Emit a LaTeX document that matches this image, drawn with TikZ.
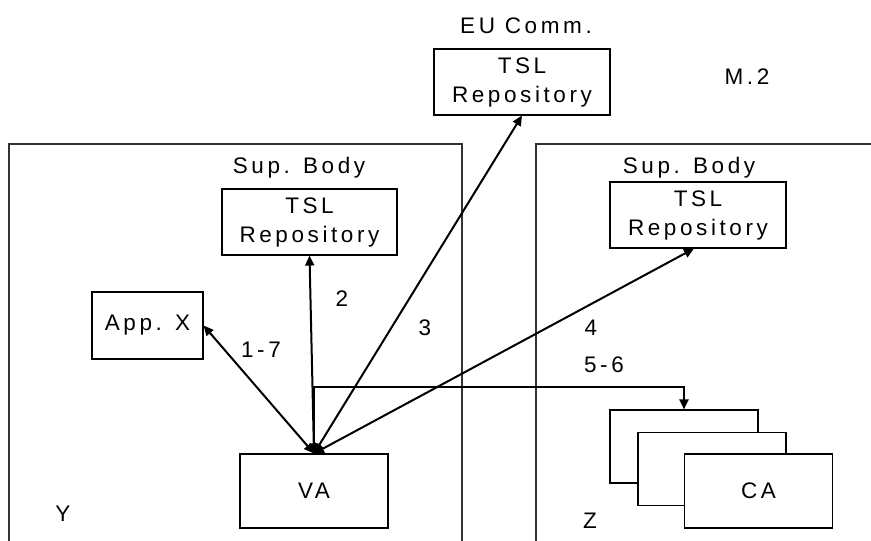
\documentclass[tikz,border=0pt]{standalone}
\usepackage{fontspec}
\setmainfont{Liberation Sans}[LetterSpace=16]
\usetikzlibrary{arrows.meta}
\newcommand\dgfont{\fontsize{22.5}{29}\selectfont}
\begin{document}
\begin{tikzpicture}[x=1pt,y=-1pt,
  box/.style={draw=black, line width=1.1pt, fill=white, inner sep=0pt, align=center, font=\dgfont},
  lbl/.style={anchor=base, inner sep=0pt, font=\dgfont},
  frame/.style={draw=black!80, line width=1.1pt},
  arr/.style={line width=2pt, {Triangle[length=10pt,width=9pt]}-{Triangle[length=10pt,width=9pt]}},
  arr1/.style={line width=2pt, -{Triangle[length=10pt,width=9pt]}}]
\useasboundingbox (0,0) rectangle (871,541);
% containers
\draw[frame] (9,541) -- (9,144) -- (462,144) -- (462,541);
\draw[frame] (536,541) -- (536,144) -- (871,144);
% boxes
\node[box, minimum width=176pt, minimum height=66pt] (eu) at (522,82) {TSL\\Repository};
\node[box, minimum width=175pt, minimum height=66pt] (tslL) at (309.5,222) {TSL\\Repository};
\node[box, minimum width=176pt, minimum height=66pt] (tslR) at (698,215) {TSL\\Repository};
\node[box, minimum width=111pt, minimum height=67pt] (appx) at (147.5,325.5) {App. X};
\node[box, minimum width=148pt, minimum height=74pt] (va) at (314,491) {VA};
\node[box, minimum width=148pt, minimum height=73pt] (ca1) at (684,446.5) {};
\node[box, minimum width=148pt, minimum height=73pt] (ca2) at (712,469) {};
\node[box, minimum width=148pt, minimum height=74pt] (ca3) at (758.5,491) {CA};
% labels
\node[lbl] (euc) at (526,33) {EU Comm.};
\node[lbl] (m2) at (747,84) {M.2};
\node[lbl] (sbL) at (299,173) {Sup. Body};
\node[lbl] (sbR) at (689,173) {Sup. Body};
\node[lbl] (l2) at (342,306) {2};
\node[lbl] (l3) at (425,335) {3};
\node[lbl] (l4) at (591,335) {4};
\node[lbl] (l17) at (261,357) {1-7};
\node[lbl] (l56) at (604,372) {5-6};
\node[lbl] (ly) at (63,521) {Y};
\node[lbl] (lz) at (590,528) {Z};
% connectors
\draw[arr] (va.north) -- (appx.east);
\draw[arr] (va.north) -- (tslL.south);
\draw[arr] (va.north) -- (eu.south);
\draw[arr] (va.north) -- ([xshift=-4pt]tslR.south);
\coordinate (elbow) at (314,387);
\draw[arr1] (va.north) -- (elbow) -| (ca1.north);
\end{tikzpicture}
\end{document}
